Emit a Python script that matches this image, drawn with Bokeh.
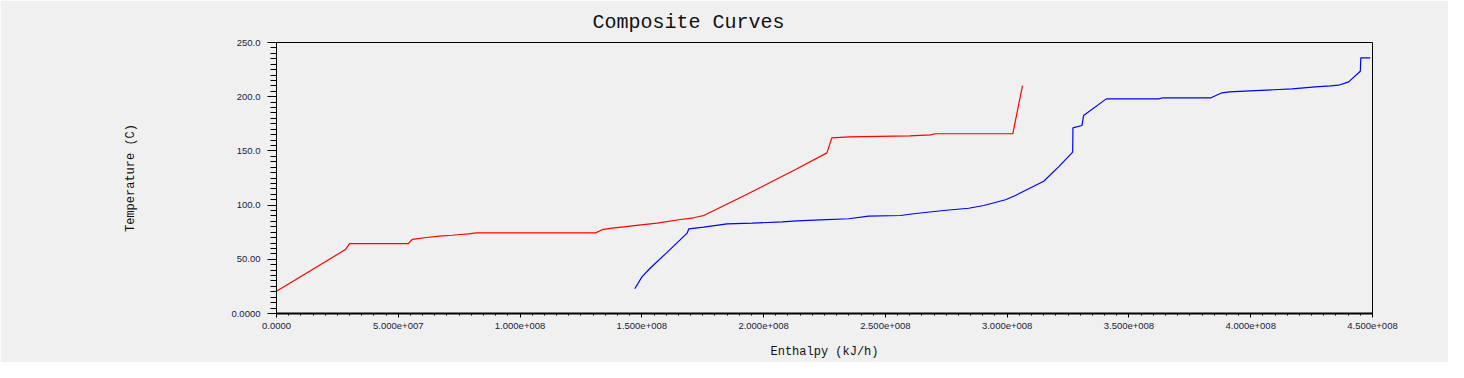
from bokeh.plotting import figure
from bokeh.models import Range1d, FixedTicker, Title
from bokeh.embed import file_html
from bokeh.resources import INLINE

# Hot composite curve (red)
hot_h = [0, 2.83e7, 3.0e7, 5.41e7, 5.57e7, 6.15e7, 6.69e7, 7.21e7, 7.55e7, 7.89e7,
         8.21e7, 1.31e8, 1.337e8, 1.378e8, 1.426e8, 1.487e8, 1.563e8, 1.658e8,
         1.713e8, 1.754e8, 1.932e8, 2.137e8, 2.26e8, 2.28e8, 2.35e8, 2.60e8,
         2.685e8, 2.705e8, 3.023e8, 3.063e8]
hot_t = [20.6, 59.0, 64.5, 64.5, 68.3, 70.1, 71.3, 72.2, 72.9, 73.5,
         74.4, 74.4, 77.3, 78.8, 80.0, 81.5, 83.3, 86.7,
         88.3, 90.4, 110.0, 133.5, 148.2, 162.0, 163.0, 163.9,
         164.8, 165.8, 165.8, 210.3]

# Cold composite curve (blue)
cold_h = [1.471e8, 1.501e8, 1.535e8, 1.597e8, 1.686e8, 1.693e8, 1.754e8, 1.85e8,
          1.953e8, 2.076e8, 2.137e8, 2.233e8, 2.349e8, 2.431e8, 2.562e8, 2.616e8,
          2.739e8, 2.842e8, 2.904e8, 2.993e8, 3.034e8, 3.15e8, 3.212e8, 3.269e8,
          3.270e8, 3.307e8, 3.314e8, 3.407e8, 3.622e8, 3.64e8, 3.837e8, 3.882e8,
          3.913e8, 3.996e8, 4.094e8, 4.17e8, 4.265e8, 4.327e8, 4.361e8, 4.402e8,
          4.45e8, 4.452e8, 4.491e8]
cold_t = [22.8, 34.0, 42.0, 55.0, 74.1, 78.1, 79.6, 82.7,
          83.3, 84.6, 85.5, 86.4, 87.4, 89.8, 90.4, 92.0,
          95.0, 97.1, 99.6, 104.9, 108.9, 122.0, 135.5, 148.8,
          171.2, 173.4, 182.7, 198.0, 198.0, 199.0, 199.0, 203.6,
          204.5, 205.4, 206.4, 207.3, 209.1, 210.0, 210.6, 213.7,
          223.5, 235.9, 235.9]

x_ticks = [0, 50000000, 100000000, 150000000, 200000000, 250000000,
           300000000, 350000000, 400000000, 450000000]
x_tick_labels = ["0.0000", "5.000e+007", "1.000e+008", "1.500e+008", "2.000e+008",
                 "2.500e+008", "3.000e+008", "3.500e+008", "4.000e+008", "4.500e+008"]
y_ticks = [0, 50, 100, 150, 200, 250]
y_tick_labels = ["0.0000", "50.00", "100.0", "150.0", "200.0", "250.0"]

BG = "#f0f0f0"
p = figure(width=1448, height=362, output_backend="svg", toolbar_location=None,
           x_range=Range1d(0, 4.5e8), y_range=Range1d(0, 250),
           min_border_left=276, min_border_right=76, min_border_top=42,
           min_border_bottom=49, background_fill_color=BG, border_fill_color=BG)
p.outline_line_color = "black"
p.outline_line_width = 1
p.outline_line_alpha = 1
p.grid.visible = False

p.title = Title(text="Composite Curves", align="left", offset=316,
                text_font="Liberation Mono", text_font_size="20px",
                text_font_style="normal", text_color="#111111", standoff=17)

p.line(hot_h, hot_t, line_color="#ff0000", line_width=1.2)
p.line(cold_h, cold_t, line_color="#0000ff", line_width=1.2)

p.xaxis.ticker = FixedTicker(ticks=x_ticks, minor_ticks=list(range(0, 450000001, 5000000)))
p.xaxis.major_label_overrides = dict(zip(x_ticks, x_tick_labels))
p.yaxis.ticker = FixedTicker(ticks=y_ticks, minor_ticks=list(range(0, 251, 5)))
p.yaxis.major_label_overrides = dict(zip(y_ticks, y_tick_labels))

for ax in (p.xaxis, p.yaxis):
    ax.axis_line_color = "black"
    ax.major_tick_line_color = "black"
    ax.minor_tick_line_color = "black"
    ax.major_tick_in = 0
    ax.minor_tick_in = 0
    ax.major_label_text_font = "Liberation Sans"
    ax.major_label_text_font_size = "9.5px"
    ax.major_label_text_color = "#1b1b3a"
    ax.axis_label_text_font = "Liberation Mono"
    ax.axis_label_text_font_size = "12px"
    ax.axis_label_text_font_style = "normal"
    ax.axis_label_text_color = "#111111"

p.xaxis.axis_line_width = 2
p.xaxis.major_tick_out = 4
p.xaxis.minor_tick_out = 2
p.xaxis.major_label_standoff = 5
p.xaxis.axis_label = "Enthalpy (kJ/h)"
p.xaxis.axis_label_standoff = 13

p.yaxis.axis_line_width = 1
p.yaxis.major_tick_out = 9
p.yaxis.minor_tick_out = 6
p.yaxis.major_label_standoff = 7
p.yaxis.axis_label = "Temperature (C)"
p.yaxis.axis_label_standoff = 90

open("out.html", "w").write(file_html(p, INLINE))
